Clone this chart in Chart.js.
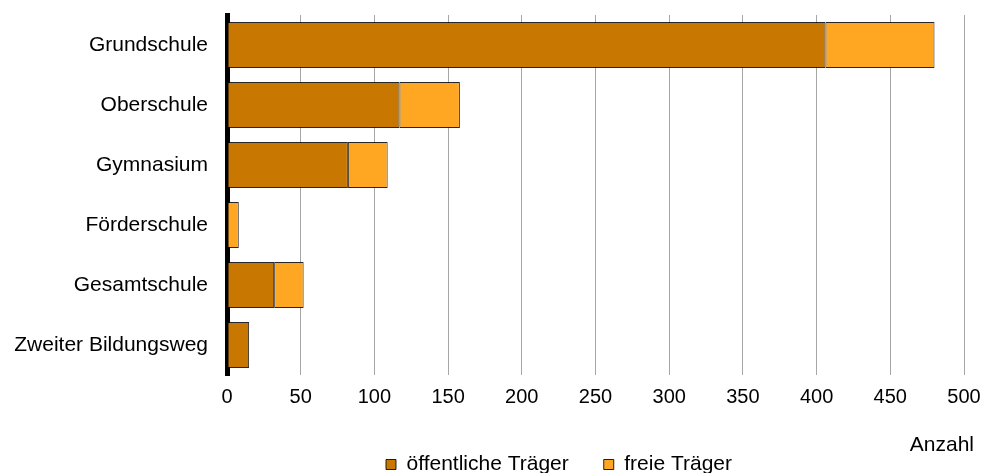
<!DOCTYPE html>
<html>
<head>
<meta charset="utf-8">
<script src="https://cdn.jsdelivr.net/npm/chart.js"></script>
<style>
body{
	margin: 0;
	background-color: #fff;
}
#wrap{
	width: 981px;
	height: 473px;
}
</style>
</head>
<body>
<div id="wrap"><canvas id="barChart"></canvas></div>

<script>
    // Schularten
    var schularten = ["Grundschule", "Oberschule", "Gymnasium", "Förderschule", "Gesamtschule", "Zweiter Bildungsweg"];
    // Anzahl nach Träger
    var oeffentlich = [406, 117, 82, 0, 32, 15];
    var frei = [74, 41, 27, 8, 20, 0];
    var xTicks = [0, 50, 100, 150, 200, 250, 300, 350, 400, 450, 500];

    var fontFamily = "'Liberation Sans', Arial, sans-serif";
    Chart.defaults.font.family = fontFamily;
    Chart.defaults.color = "#000";

    // Achsenbeschriftung "Anzahl" unten rechts, Legende etwas nach rechts
    var anzahlLabel = {
        id: "anzahlLabel",
        afterLayout: function(chart) {
            chart.legend.left += 77;
            chart.legend.right += 77;
        },
        afterDraw: function(chart) {
            var ctx = chart.ctx;
            ctx.save();
            ctx.font = "21px " + fontFamily;
            ctx.fillStyle = "#000";
            ctx.textAlign = "right";
            ctx.textBaseline = "middle";
            ctx.fillText("Anzahl", chart.chartArea.right + 10, chart.chartArea.bottom + 70);
            ctx.restore();
        }
    };

    var bar = new Chart(document.getElementById("barChart"), {
        type: "bar",
        data: {
            labels: schularten,
            datasets: [
                {
                    label: "öffentliche Träger",
                    data: oeffentlich,
                    backgroundColor: "#C87700",
                    borderColor: "rgba(0,0,0,0.85)",
                    borderWidth: 1,
                    borderSkipped: false
                },
                {
                    label: "freie Träger",
                    data: frei,
                    backgroundColor: "#FFA623",
                    borderColor: "rgba(0,0,0,0.85)",
                    borderWidth: 1,
                    borderSkipped: false
                }
            ]
        },
        options: {
            indexAxis: "y",
            responsive: true,
            maintainAspectRatio: false,
            animation: false,
            barPercentage: 0.77,
            categoryPercentage: 1,
            layout: {
                padding: {top: 15, right: 17, left: 0, bottom: -12}
            },
            plugins: {
                legend: {
                    position: "bottom",
                    labels: {
                        boxWidth: 10,
                        boxHeight: 10,
                        padding: 35,
                        font: {size: 21}
                    }
                },
                tooltip: {enabled: false}
            },
            scales: {
                x: {
                    stacked: true,
                    min: 0,
                    max: 500,
                    afterBuildTicks: function(axis) {
                        axis.ticks = xTicks.map(function(v) { return {value: v}; });
                    },
                    afterFit: function(axis) {
                        axis.height = 44;
                        axis.paddingLeft = 0;
                        axis.paddingRight = 0;
                    },
                    grid: {
                        color: "#a6a6a6",
                        lineWidth: 1,
                        drawTicks: false
                    },
                    border: {display: false},
                    ticks: {
                        padding: 10,
                        font: {size: 20}
                    }
                },
                y: {
                    stacked: true,
                    afterFit: function(axis) {
                        axis.width = 227;
                        axis.paddingTop = 0;
                        axis.paddingBottom = 0;
                    },
                    grid: {
                        display: false,
                        drawTicks: false
                    },
                    border: {
                        display: true,
                        color: "#000",
                        width: 5
                    },
                    ticks: {
                        padding: 19,
                        font: {size: 21}
                    }
                }
            }
        },
        plugins: [anzahlLabel]
    });
</script>
</body>
</html>
